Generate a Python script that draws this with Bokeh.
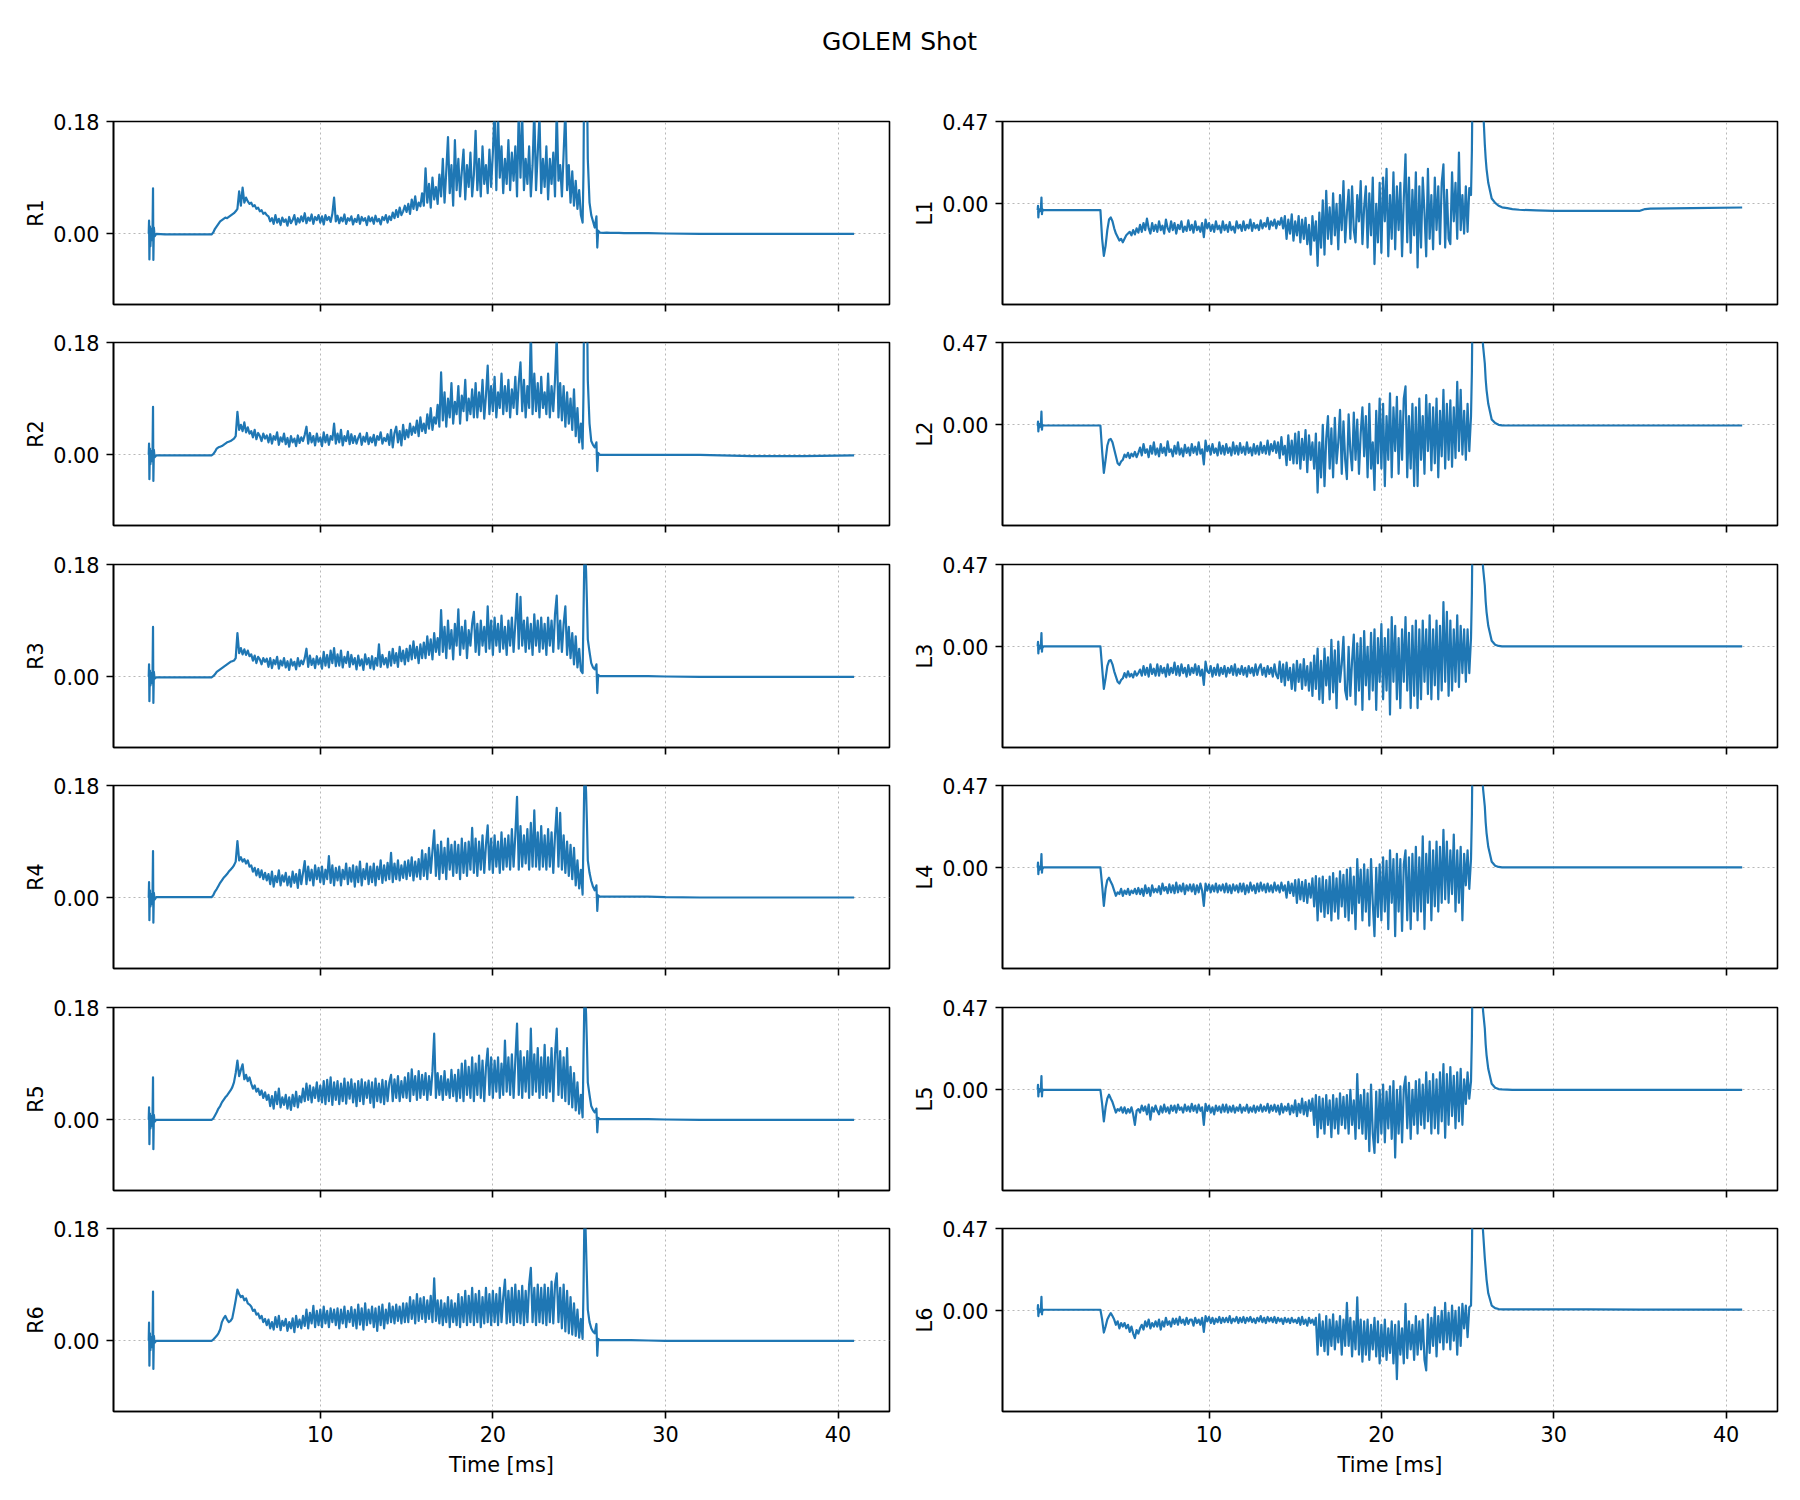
import numpy as np
from bokeh.plotting import figure
from bokeh.layouts import gridplot, column
from bokeh.models import Range1d, FixedTicker, NumeralTickFormatter
from bokeh.core.properties import value
from bokeh.embed import file_html
from bokeh.resources import INLINE

FONT = "DejaVu Sans"
TITLE = "GOLEM Shot"
X_LABEL = "Time [ms]"
X_TICKS = [10, 20, 30, 40]
X_LIM = (-1.98, 42.98)
R_YLIM = (-0.1133, 0.18)
L_YLIM = (-0.575, 0.47)
R_NAMES = ["R1", "R2", "R3", "R4", "R5", "R6"]
L_NAMES = ["L1", "L2", "L3", "L4", "L5", "L6"]

# time base [ms]
T_START = [0.06, 0.08, 0.10, 0.13, 0.16, 0.20, 0.24, 0.28, 0.31, 0.33, 0.36, 0.40, 0.50]
T_FLAT = [1.0, 2.0, 3.0, 3.7]
T_BODY = np.round(np.arange(3.8, 25.2001, 0.1), 2)          # 3.8 ... 25.2
T_END = [25.25, 25.3, 25.35, 25.4, 25.45, 25.5, 25.6, 25.7, 25.8, 25.9, 26.0, 26.05, 26.1,
         26.2, 26.4, 26.6, 26.8, 27.0, 27.3, 27.6, 28.0, 29.0, 30.0, 32.0, 35.0, 35.3, 35.6, 38.0, 40.93]
TIME = np.concatenate([T_START, T_FLAT, T_BODY, T_END])

R1 = [0.0, 0.021, -0.041, 0.012, -0.02, 0.008, -0.01, 0.005, 0.073, -0.042, 0.01, -0.004, 0.0,
      -0.001, -0.001, -0.001, -0.001,
      0.002, 0.008,
      0.012, 0.016, 0.02, 0.022, 0.024, 0.026, 0.025, 0.027, 0.029, 0.031,
      0.033, 0.036, 0.04, 0.068, 0.045, 0.074, 0.05, 0.058, 0.052, 0.048,
      0.05, 0.044, 0.046, 0.04, 0.042, 0.036, 0.038, 0.032, 0.034, 0.03,
      0.028, 0.02, 0.025, 0.016, 0.03, 0.018, 0.024, 0.014, 0.026, 0.019,
      0.023, 0.013, 0.027, 0.017, 0.022, 0.03, 0.015, 0.025, 0.018, 0.028,
      0.02, 0.033, 0.017, 0.026, 0.021, 0.031, 0.016, 0.027, 0.022, 0.03,
      0.018, 0.028, 0.015, 0.03, 0.022, 0.027, 0.019, 0.032, 0.058, 0.02,
      0.029, 0.017, 0.026, 0.02, 0.031, 0.016, 0.025, 0.021, 0.028, 0.015,
      0.024, 0.019, 0.03, 0.016, 0.027, 0.021, 0.025, 0.014, 0.028, 0.02,
      0.026, 0.016, 0.029, 0.02, 0.024, 0.015, 0.027, 0.022, 0.03, 0.018,
      0.028, 0.022, 0.034, 0.025, 0.038, 0.027, 0.042, 0.03, 0.036, 0.045,
      0.035, 0.048, 0.032, 0.055, 0.04, 0.06, 0.038, 0.05, 0.044, 0.065,
      0.045, 0.105, 0.05, 0.08, 0.042, 0.09, 0.055, 0.075, 0.048, 0.095,
      0.06, 0.12, 0.05, 0.1, 0.155, 0.065, 0.11, 0.045, 0.15, 0.07,
      0.12, 0.06, 0.1, 0.135, 0.055, 0.11, 0.075, 0.13, 0.06, 0.095,
      0.165, 0.07, 0.12, 0.06, 0.14, 0.08, 0.11, 0.065, 0.135, 0.075,
      0.13, 0.2, 0.07, 0.19, 0.09, 0.14, 0.065, 0.12, 0.08, 0.15,
      0.07, 0.13, 0.085, 0.14, 0.06, 0.2, 0.09, 0.19, 0.07, 0.12,
      0.08, 0.14, 0.06, 0.11, 0.2, 0.07, 0.13, 0.19, 0.065, 0.12,
      0.075, 0.14, 0.055, 0.12, 0.08, 0.13, 0.06, 0.2, 0.085, 0.11,
      0.06, 0.13, 0.2, 0.07, 0.11, 0.05, 0.1, 0.045, 0.085, 0.04,
      0.07, 0.03, 0.018,
      0.1, 0.3, 0.45, 0.4, 0.25, 0.12, 0.05, 0.03, 0.02, 0.01, 0.028, -0.022, 0.005,
      0.002, 0.0015, 0.002, 0.0015, 0.0015, 0.0015, 0.001, 0.001, 0.001, 0.0005, 0.0, 0.0, 0.0, 0.0, 0.0, 0.0]

R2 = [0.0, 0.018, -0.039, 0.01, -0.015, 0.006, -0.01, 0.004, 0.077, -0.042, 0.008, -0.004, -0.001,
      -0.001, -0.001, -0.001, -0.001,
      0.001, 0.005,
      0.01, 0.012, 0.013, 0.014, 0.016, 0.018, 0.02, 0.021, 0.022, 0.024,
      0.026, 0.03, 0.069, 0.04, 0.048, 0.038, 0.052, 0.036, 0.044, 0.034,
      0.038, 0.028, 0.04, 0.025, 0.035, 0.03, 0.022, 0.034, 0.026, 0.031,
      0.02, 0.033, 0.018, 0.03, 0.024, 0.036, 0.016, 0.028, 0.021, 0.034,
      0.017, 0.027, 0.013, 0.03, 0.02, 0.026, 0.014, 0.031, 0.019, 0.028,
      0.022, 0.032, 0.045, 0.018, 0.035, 0.02, 0.03, 0.015, 0.034, 0.021,
      0.028, 0.014, 0.036, 0.02, 0.032, 0.016, 0.03, 0.024, 0.05, 0.018,
      0.034, 0.02, 0.04, 0.015, 0.03, 0.022, 0.038, 0.017, 0.033, 0.019,
      0.03, 0.018, 0.027, 0.034, 0.016, 0.029, 0.021, 0.035, 0.017, 0.028,
      0.02, 0.032, 0.015, 0.03, 0.024, 0.036, 0.018, 0.027, 0.022, 0.033,
      0.016, 0.04, 0.012, 0.035, 0.045, 0.02, 0.038, 0.015, 0.048, 0.025,
      0.04, 0.028, 0.05, 0.032, 0.045, 0.035, 0.055, 0.03, 0.06, 0.038,
      0.05, 0.035, 0.065, 0.042, 0.075, 0.04, 0.06, 0.05, 0.08, 0.045,
      0.132, 0.055, 0.1, 0.045, 0.09, 0.06, 0.115, 0.05, 0.085, 0.065,
      0.11, 0.05, 0.095, 0.07, 0.12, 0.055, 0.09, 0.065, 0.105, 0.06,
      0.115, 0.06, 0.1, 0.07, 0.12, 0.058, 0.095, 0.143, 0.065, 0.11,
      0.07, 0.125, 0.06, 0.1, 0.075, 0.13, 0.065, 0.11, 0.07, 0.12,
      0.06, 0.105, 0.075, 0.125, 0.065, 0.115, 0.148, 0.07, 0.12, 0.06,
      0.11, 0.075, 0.2, 0.065, 0.13, 0.07, 0.115, 0.06, 0.125, 0.075,
      0.1, 0.065, 0.13, 0.06, 0.11, 0.07, 0.12, 0.19, 0.06, 0.115,
      0.055, 0.11, 0.045, 0.1, 0.05, 0.09, 0.04, 0.105, 0.03, 0.075,
      0.02, 0.05, 0.01,
      0.1, 0.3, 0.45, 0.4, 0.25, 0.12, 0.05, 0.022, 0.016, 0.012, 0.02, -0.026, 0.003,
      0.0, 0.0, 0.0, 0.0, 0.0, 0.0, 0.0, 0.0, 0.0, 0.0, 0.0, -0.002, -0.002, -0.002, -0.002, -0.001]

R3 = [0.0, 0.02, -0.039, 0.01, -0.014, 0.006, -0.01, 0.004, 0.08, -0.042, 0.008, -0.003, -0.001,
      -0.001, -0.001, -0.001, -0.001,
      0.001, 0.004,
      0.008, 0.01, 0.012, 0.014, 0.016, 0.018, 0.02, 0.022, 0.024, 0.025,
      0.026, 0.03, 0.07, 0.038, 0.046, 0.036, 0.044, 0.035, 0.042, 0.033,
      0.036, 0.026, 0.034, 0.022, 0.032, 0.028, 0.02, 0.03, 0.024, 0.029,
      0.016, 0.03, 0.014, 0.027, 0.02, 0.032, 0.013, 0.026, 0.018, 0.03,
      0.015, 0.025, 0.011, 0.028, 0.018, 0.024, 0.012, 0.03, 0.017, 0.026,
      0.02, 0.03, 0.045, 0.016, 0.034, 0.019, 0.029, 0.014, 0.033, 0.02,
      0.03, 0.013, 0.04, 0.018, 0.035, 0.015, 0.042, 0.022, 0.046, 0.017,
      0.036, 0.018, 0.042, 0.015, 0.032, 0.022, 0.04, 0.016, 0.035, 0.02,
      0.03, 0.012, 0.034, 0.018, 0.028, 0.011, 0.036, 0.02, 0.03, 0.014,
      0.033, 0.012, 0.03, 0.018, 0.052, 0.016, 0.035, 0.02, 0.03, 0.015,
      0.04, 0.018, 0.045, 0.022, 0.038, 0.016, 0.048, 0.025, 0.042, 0.02,
      0.045, 0.025, 0.05, 0.028, 0.057, 0.03, 0.048, 0.022, 0.052, 0.03,
      0.055, 0.03, 0.065, 0.035, 0.06, 0.028, 0.07, 0.04, 0.062, 0.035,
      0.107, 0.04, 0.08, 0.03, 0.09, 0.045, 0.075, 0.028, 0.085, 0.05,
      0.108, 0.035, 0.08, 0.045, 0.09, 0.03, 0.075, 0.05, 0.085, 0.104,
      0.04, 0.085, 0.035, 0.09, 0.05, 0.08, 0.04, 0.113, 0.045, 0.09,
      0.035, 0.095, 0.05, 0.085, 0.04, 0.098, 0.045, 0.08, 0.035, 0.09,
      0.05, 0.095, 0.04, 0.085, 0.133, 0.045, 0.128, 0.05, 0.09, 0.04,
      0.095, 0.045, 0.085, 0.035, 0.1, 0.05, 0.09, 0.04, 0.095, 0.045,
      0.085, 0.035, 0.095, 0.05, 0.09, 0.04, 0.1, 0.13, 0.045, 0.09,
      0.04, 0.085, 0.113, 0.035, 0.08, 0.03, 0.07, 0.02, 0.065, 0.015,
      0.045, 0.01, 0.006,
      0.1, 0.19, 0.2, 0.17, 0.12, 0.06, 0.04, 0.022, 0.015, 0.012, 0.02, -0.026, 0.003,
      0.001, 0.001, 0.001, 0.001, 0.001, 0.001, 0.001, 0.001, 0.001, 0.0005, 0.0, 0.0, 0.0, 0.0, 0.0, 0.0]

R4 = [0.0, 0.025, -0.036, 0.012, -0.014, 0.006, -0.01, 0.004, 0.075, -0.04, 0.008, -0.003, 0.001,
      0.001, 0.001, 0.001, 0.001,
      0.004, 0.01,
      0.014, 0.019, 0.024, 0.028, 0.032, 0.035, 0.038, 0.042, 0.045, 0.048,
      0.052, 0.058, 0.091, 0.06, 0.065, 0.058, 0.062, 0.055, 0.06, 0.05,
      0.052, 0.042, 0.048, 0.036, 0.046, 0.033, 0.044, 0.03, 0.04, 0.028,
      0.038, 0.022, 0.042, 0.018, 0.035, 0.025, 0.044, 0.02, 0.036, 0.026,
      0.04, 0.02, 0.034, 0.018, 0.042, 0.024, 0.038, 0.016, 0.045, 0.022,
      0.04, 0.059, 0.022, 0.05, 0.028, 0.045, 0.02, 0.052, 0.03, 0.048,
      0.025, 0.05, 0.022, 0.045, 0.03, 0.067, 0.024, 0.052, 0.02, 0.048,
      0.028, 0.05, 0.02, 0.045, 0.03, 0.055, 0.022, 0.048, 0.026, 0.052,
      0.018, 0.05, 0.025, 0.058, 0.02, 0.046, 0.03, 0.055, 0.022, 0.05,
      0.025, 0.055, 0.02, 0.05, 0.03, 0.06, 0.024, 0.052, 0.028, 0.056,
      0.03, 0.072, 0.025, 0.055, 0.03, 0.06, 0.028, 0.052, 0.032, 0.058,
      0.03, 0.06, 0.035, 0.065, 0.028, 0.058, 0.034, 0.062, 0.03, 0.076,
      0.035, 0.07, 0.03, 0.08, 0.04, 0.075, 0.108, 0.035, 0.085, 0.03,
      0.09, 0.04, 0.08, 0.03, 0.095, 0.045, 0.085, 0.035, 0.09, 0.04,
      0.085, 0.03, 0.095, 0.04, 0.088, 0.035, 0.09, 0.045, 0.112, 0.04,
      0.095, 0.035, 0.09, 0.045, 0.1, 0.04, 0.085, 0.116, 0.045, 0.095,
      0.04, 0.1, 0.05, 0.09, 0.04, 0.105, 0.045, 0.095, 0.05, 0.1,
      0.045, 0.11, 0.05, 0.1, 0.162, 0.045, 0.115, 0.05, 0.1, 0.055,
      0.11, 0.045, 0.12, 0.05, 0.14, 0.05, 0.105, 0.045, 0.115, 0.05,
      0.1, 0.045, 0.11, 0.05, 0.105, 0.04, 0.1, 0.144, 0.05, 0.136,
      0.045, 0.1, 0.04, 0.09, 0.035, 0.085, 0.03, 0.08, 0.02, 0.06,
      0.015, 0.045, 0.005,
      0.1, 0.19, 0.2, 0.17, 0.12, 0.06, 0.04, 0.027, 0.018, 0.012, 0.02, -0.021, 0.004,
      0.002, 0.002, 0.002, 0.002, 0.002, 0.002, 0.002, 0.002, 0.002, 0.001, 0.0005, 0.0005, 0.0005, 0.0005, 0.0005, 0.0005]

R5 = [0.0, 0.02, -0.039, 0.01, -0.014, 0.006, -0.01, 0.004, 0.068, -0.047, 0.008, -0.003, 0.0,
      0.0, 0.0, 0.0, 0.0,
      0.002, 0.007,
      0.012, 0.018, 0.022, 0.028, 0.032, 0.036, 0.039, 0.043, 0.047, 0.052,
      0.06, 0.075, 0.095, 0.07, 0.08, 0.089, 0.065, 0.072, 0.062, 0.068,
      0.058, 0.05, 0.055, 0.045, 0.05, 0.04, 0.047, 0.035, 0.044, 0.032,
      0.04, 0.022, 0.038, 0.018, 0.045, 0.025, 0.05, 0.02, 0.036, 0.024,
      0.04, 0.018, 0.036, 0.016, 0.04, 0.022, 0.045, 0.02, 0.038, 0.028,
      0.05, 0.03, 0.058, 0.032, 0.055, 0.028, 0.052, 0.035, 0.06, 0.03,
      0.055, 0.028, 0.062, 0.025, 0.064, 0.03, 0.068, 0.024, 0.06, 0.032,
      0.062, 0.025, 0.058, 0.03, 0.066, 0.026, 0.06, 0.034, 0.065, 0.028,
      0.058, 0.022, 0.062, 0.03, 0.065, 0.025, 0.06, 0.035, 0.063, 0.027,
      0.06, 0.02, 0.066, 0.03, 0.058, 0.028, 0.064, 0.025, 0.062, 0.03,
      0.06, 0.072, 0.03, 0.065, 0.035, 0.07, 0.03, 0.062, 0.036, 0.068,
      0.035, 0.075, 0.03, 0.081, 0.04, 0.07, 0.032, 0.078, 0.035, 0.072,
      0.04, 0.075, 0.032, 0.07, 0.04, 0.078, 0.138, 0.035, 0.075, 0.04,
      0.07, 0.032, 0.078, 0.04, 0.065, 0.035, 0.08, 0.038, 0.072, 0.03,
      0.08, 0.035, 0.09, 0.03, 0.095, 0.04, 0.085, 0.035, 0.1, 0.03,
      0.09, 0.04, 0.103, 0.035, 0.095, 0.03, 0.085, 0.114, 0.04, 0.1,
      0.035, 0.095, 0.045, 0.1, 0.035, 0.09, 0.04, 0.127, 0.045, 0.1,
      0.04, 0.105, 0.035, 0.095, 0.154, 0.04, 0.11, 0.035, 0.1, 0.045,
      0.11, 0.035, 0.146, 0.04, 0.105, 0.045, 0.115, 0.035, 0.1, 0.04,
      0.12, 0.035, 0.1, 0.045, 0.115, 0.03, 0.105, 0.146, 0.04, 0.11,
      0.035, 0.1, 0.03, 0.115, 0.025, 0.085, 0.02, 0.075, 0.015, 0.06,
      0.01, 0.04, 0.004,
      0.1, 0.19, 0.2, 0.17, 0.12, 0.06, 0.04, 0.022, 0.016, 0.012, 0.018, -0.02, 0.003,
      0.001, 0.001, 0.001, 0.001, 0.001, 0.001, 0.001, 0.001, 0.001, 0.0005, 0.0, 0.0, 0.0, 0.0, 0.0, 0.0]

R6 = [0.0, 0.029, -0.04, 0.012, -0.015, 0.006, -0.01, 0.004, 0.079, -0.045, 0.008, -0.003, 0.0,
      0.0, 0.0, 0.0, 0.0,
      0.002, 0.005,
      0.008, 0.012, 0.018, 0.03, 0.036, 0.04, 0.034, 0.03, 0.032, 0.036,
      0.05, 0.065, 0.082, 0.075, 0.07, 0.072, 0.065, 0.068, 0.06, 0.058,
      0.055, 0.048, 0.05, 0.042, 0.044, 0.036, 0.04, 0.03, 0.035, 0.025,
      0.034, 0.02, 0.03, 0.018, 0.038, 0.022, 0.04, 0.017, 0.032, 0.024,
      0.035, 0.016, 0.03, 0.02, 0.036, 0.014, 0.04, 0.022, 0.034, 0.02,
      0.04, 0.024, 0.05, 0.02, 0.045, 0.028, 0.056, 0.022, 0.048, 0.025,
      0.05, 0.022, 0.055, 0.028, 0.048, 0.022, 0.052, 0.03, 0.05, 0.025,
      0.052, 0.02, 0.05, 0.028, 0.055, 0.022, 0.048, 0.03, 0.054, 0.024,
      0.05, 0.02, 0.058, 0.026, 0.052, 0.018, 0.06, 0.025, 0.05, 0.028,
      0.055, 0.022, 0.052, 0.016, 0.055, 0.025, 0.058, 0.02, 0.05, 0.028,
      0.06, 0.03, 0.055, 0.028, 0.058, 0.032, 0.055, 0.028, 0.06, 0.03,
      0.06, 0.03, 0.07, 0.035, 0.065, 0.028, 0.075, 0.032, 0.068, 0.035,
      0.07, 0.03, 0.065, 0.035, 0.072, 0.03, 0.1, 0.032, 0.065, 0.028,
      0.065, 0.025, 0.06, 0.03, 0.07, 0.022, 0.065, 0.03, 0.06, 0.025,
      0.075, 0.022, 0.07, 0.03, 0.08, 0.025, 0.072, 0.03, 0.085, 0.025,
      0.075, 0.03, 0.08, 0.022, 0.07, 0.028, 0.085, 0.03, 0.075, 0.025,
      0.08, 0.03, 0.075, 0.025, 0.085, 0.03, 0.07, 0.098, 0.028, 0.08,
      0.03, 0.085, 0.025, 0.09, 0.03, 0.08, 0.028, 0.088, 0.025, 0.08,
      0.03, 0.09, 0.117, 0.03, 0.085, 0.025, 0.09, 0.03, 0.085, 0.028,
      0.09, 0.025, 0.085, 0.03, 0.095, 0.028, 0.09, 0.108, 0.03, 0.085,
      0.02, 0.09, 0.015, 0.08, 0.012, 0.07, 0.01, 0.06, 0.008, 0.05,
      0.005, 0.035, 0.003,
      0.08, 0.19, 0.2, 0.15, 0.1, 0.05, 0.03, 0.02, 0.015, 0.012, 0.027, -0.024, 0.003,
      0.001, 0.001, 0.001, 0.001, 0.001, 0.001, 0.001, 0.001, 0.0005, 0.0, 0.0, 0.0, 0.0, 0.0, 0.0, 0.0]

L1 = [-0.036, -0.011, -0.078, -0.03, -0.045, -0.035, -0.04, 0.036, -0.059, -0.03, -0.04, -0.036, -0.036,
      -0.036, -0.036, -0.036, -0.036,
      -0.2, -0.297,
      -0.24, -0.15, -0.09, -0.078, -0.1, -0.14, -0.17, -0.19, -0.21, -0.2,
      -0.22, -0.2, -0.18, -0.17, -0.16, -0.18, -0.15, -0.175, -0.14, -0.165,
      -0.12, -0.16, -0.11, -0.15, -0.085, -0.14, -0.17, -0.11, -0.155, -0.12,
      -0.16, -0.1, -0.15, -0.125, -0.17, -0.09, -0.14, -0.16, -0.1, -0.15,
      -0.11, -0.17, -0.12, -0.145, -0.1, -0.16, -0.13, -0.155, -0.095, -0.15,
      -0.12, -0.165, -0.1, -0.15, -0.13, -0.16, -0.11, -0.19, -0.09, -0.14,
      -0.11, -0.155, -0.12, -0.16, -0.1, -0.145, -0.125, -0.165, -0.1, -0.15,
      -0.12, -0.16, -0.105, -0.15, -0.13, -0.165, -0.1, -0.14, -0.12, -0.155,
      -0.1, -0.15, -0.12, -0.14, -0.09, -0.155, -0.11, -0.14, -0.12, -0.15,
      -0.095, -0.14, -0.11, -0.13, -0.08, -0.145, -0.1, -0.125, -0.09, -0.14,
      -0.1, -0.12, -0.08, -0.14, -0.07, -0.2, -0.09, -0.17, -0.06, -0.21,
      -0.1, -0.18, -0.07, -0.22, -0.09, -0.2, -0.08, -0.23, -0.12, -0.29,
      -0.07, -0.21, -0.1, -0.354, -0.05, -0.25, 0.02, -0.29, 0.074, -0.2,
      -0.02, -0.23, 0.06, -0.18, 0.0, -0.26, 0.05, -0.15, 0.13, -0.22,
      -0.05, 0.08, -0.2, 0.1, -0.15, -0.22, 0.05, -0.1, 0.13, -0.23,
      -0.02, 0.1, -0.25, 0.06, -0.18, 0.15, -0.344, 0.0, -0.22, 0.12,
      -0.28, 0.15, -0.1, 0.2, -0.3, 0.05, -0.2, 0.18, -0.26, 0.1,
      -0.15, 0.12, -0.3, 0.03, 0.283, -0.22, 0.15, -0.28, 0.08, -0.18,
      0.18, -0.363, 0.1, -0.25, 0.15, -0.05, -0.3, 0.2, -0.2, 0.05,
      -0.26, 0.15, -0.15, 0.1, -0.23, 0.12, 0.226, -0.25, 0.08, -0.2,
      -0.23, 0.18, -0.1, 0.12, -0.2, 0.293, -0.15, 0.05, -0.17, 0.1,
      -0.16, 0.09, 0.05,
      0.3, 0.8, 1.2, 1.3, 1.2, 1.1, 0.95, 0.8, 0.65, 0.55, 0.34, 0.26, 0.2,
      0.12, 0.03, 0.005, -0.011, -0.02, -0.025, -0.03, -0.034, -0.038, -0.04, -0.04, -0.04, -0.03, -0.028, -0.025, -0.021]

L2 = [-0.004, 0.019, -0.038, 0.005, -0.015, 0.0, -0.01, 0.075, -0.028, 0.0, -0.006, -0.004, -0.004,
      -0.004, -0.004, -0.004, -0.004,
      -0.15, -0.274,
      -0.2, -0.12, -0.085, -0.081, -0.1, -0.14, -0.18, -0.22, -0.23, -0.21,
      -0.2, -0.17, -0.185, -0.16, -0.19, -0.165, -0.18, -0.155, -0.185, -0.16,
      -0.13, -0.175, -0.11, -0.16, -0.14, -0.185, -0.12, -0.165, -0.1, -0.17,
      -0.135, -0.18, -0.11, -0.16, -0.13, -0.175, -0.095, -0.155, -0.14, -0.18,
      -0.12, -0.165, -0.1, -0.17, -0.135, -0.18, -0.115, -0.16, -0.13, -0.175,
      -0.11, -0.16, -0.125, -0.17, -0.1, -0.165, -0.14, -0.226, -0.09, -0.15,
      -0.12, -0.17, -0.11, -0.16, -0.135, -0.175, -0.1, -0.165, -0.12, -0.17,
      -0.11, -0.16, -0.13, -0.175, -0.1, -0.165, -0.12, -0.17, -0.105, -0.16,
      -0.125, -0.17, -0.1, -0.16, -0.13, -0.175, -0.11, -0.165, -0.12, -0.17,
      -0.1, -0.16, -0.12, -0.165, -0.09, -0.17, -0.11, -0.15, -0.095, -0.16,
      -0.1, -0.19, -0.07, -0.17, -0.12, -0.23, -0.06, -0.2, -0.09, -0.22,
      -0.05, -0.22, -0.04, -0.25, -0.08, -0.2, -0.03, -0.27, -0.06, -0.2,
      -0.1, -0.25, -0.05, -0.387, -0.1, -0.3, 0.0, -0.35, -0.08, 0.05,
      -0.25, -0.02, -0.3, 0.04, -0.22, -0.1, 0.085, -0.28, 0.02, -0.2,
      -0.31, 0.06, -0.15, -0.26, 0.07, -0.2, 0.03, -0.28, -0.05, 0.1,
      -0.18, 0.05, -0.3, 0.12, -0.25, -0.1, -0.372, 0.08, -0.22, 0.15,
      -0.25, 0.12, -0.35, 0.05, -0.2, 0.18, -0.3, 0.1, -0.15, 0.16,
      -0.28, 0.08, -0.2, 0.15, 0.22, -0.3, 0.05, -0.25, 0.12, -0.35,
      0.1, -0.35, 0.15, -0.2, 0.05, -0.28, 0.17, -0.15, 0.12, -0.26,
      0.1, -0.22, 0.15, -0.3, 0.08, -0.18, 0.2, -0.25, 0.12, -0.2,
      0.14, -0.24, 0.1, -0.19, 0.245, -0.15, 0.2, -0.17, 0.08, -0.2,
      0.12, -0.15, 0.05,
      0.3, 0.8, 1.2, 1.3, 1.2, 1.1, 0.95, 0.8, 0.6, 0.45, 0.35, 0.26, 0.2,
      0.12, 0.03, 0.01, 0.0, -0.003, -0.004, -0.004, -0.004, -0.004, -0.004, -0.004, -0.004, -0.004, -0.004, -0.004, -0.004]

L3 = [0.002, 0.028, -0.038, 0.008, -0.012, 0.004, -0.008, 0.078, -0.028, 0.004, -0.004, 0.002, 0.002,
      0.002, 0.002, 0.002, 0.002,
      -0.12, -0.24,
      -0.18, -0.11, -0.08, -0.076, -0.1, -0.14, -0.17, -0.2, -0.21, -0.19,
      -0.18, -0.15, -0.175, -0.14, -0.17, -0.155, -0.175, -0.14, -0.165, -0.15,
      -0.13, -0.165, -0.11, -0.16, -0.12, -0.17, -0.1, -0.155, -0.125, -0.165,
      -0.1, -0.165, -0.11, -0.15, -0.12, -0.17, -0.1, -0.16, -0.12, -0.15,
      -0.09, -0.16, -0.11, -0.165, -0.1, -0.15, -0.12, -0.17, -0.105, -0.16,
      -0.12, -0.15, -0.1, -0.16, -0.11, -0.165, -0.13, -0.217, -0.085, -0.14,
      -0.15, -0.11, -0.17, -0.12, -0.16, -0.1, -0.165, -0.12, -0.155, -0.11,
      -0.17, -0.12, -0.15, -0.11, -0.16, -0.1, -0.165, -0.125, -0.155, -0.11,
      -0.16, -0.12, -0.17, -0.11, -0.15, -0.12, -0.165, -0.1, -0.16, -0.12,
      -0.1, -0.16, -0.12, -0.17, -0.11, -0.155, -0.12, -0.17, -0.1, -0.16,
      -0.18, -0.085, -0.2, -0.1, -0.22, -0.09, -0.19, -0.12, -0.24, -0.1,
      -0.25, -0.08, -0.2, -0.1, -0.24, -0.07, -0.22, -0.11, -0.25, -0.09,
      -0.28, -0.05, -0.24, -0.01, -0.3, -0.08, -0.32, -0.01, -0.22, -0.06,
      -0.3, 0.04, -0.26, -0.02, -0.35, 0.03, -0.2, -0.1, 0.057, -0.25,
      -0.3, 0.0, -0.28, -0.08, 0.07, -0.33, 0.02, -0.25, 0.05, -0.36,
      0.09, -0.22, 0.0, -0.3, 0.08, -0.25, 0.1, -0.36, 0.05, -0.2,
      0.13, -0.3, 0.05, -0.25, 0.1, -0.387, 0.17, -0.2, 0.12, -0.3,
      0.05, -0.35, 0.1, -0.2, 0.17, -0.25, 0.08, -0.35, 0.12, -0.28,
      0.15, -0.35, 0.1, -0.3, 0.15, -0.2, 0.1, -0.27, 0.18, -0.3,
      0.1, -0.22, 0.15, -0.3, 0.12, -0.25, 0.255, -0.2, 0.2, -0.28,
      0.15, -0.25, 0.1, -0.2, 0.18, -0.23, 0.12, -0.15, 0.1, -0.2,
      0.1, -0.15, 0.05,
      0.3, 0.8, 1.2, 1.3, 1.2, 1.1, 0.95, 0.8, 0.6, 0.45, 0.35, 0.26, 0.2,
      0.12, 0.035, 0.012, 0.005, 0.003, 0.002, 0.002, 0.002, 0.002, 0.002, 0.002, 0.002, 0.002, 0.002, 0.002, 0.002]

L4 = [0.002, 0.03, -0.036, 0.008, -0.012, 0.004, -0.008, 0.078, -0.028, 0.004, -0.004, 0.002, 0.002,
      0.002, 0.002, 0.002, 0.002,
      -0.1, -0.217,
      -0.12, -0.07, -0.057, -0.08, -0.1, -0.13, -0.16, -0.14, -0.15, -0.12,
      -0.16, -0.13, -0.15, -0.12, -0.155, -0.13, -0.145, -0.12, -0.15, -0.115,
      -0.15, -0.12, -0.16, -0.1, -0.145, -0.115, -0.16, -0.1, -0.14, -0.12,
      -0.14, -0.105, -0.15, -0.09, -0.13, -0.11, -0.145, -0.095, -0.14, -0.1,
      -0.145, -0.085, -0.14, -0.1, -0.135, -0.09, -0.15, -0.1, -0.13, -0.095,
      -0.135, -0.095, -0.15, -0.1, -0.14, -0.09, -0.13, -0.217, -0.09, -0.13,
      -0.095, -0.14, -0.1, -0.135, -0.09, -0.14, -0.1, -0.13, -0.095, -0.14,
      -0.09, -0.14, -0.1, -0.145, -0.095, -0.13, -0.1, -0.14, -0.09, -0.135,
      -0.09, -0.15, -0.1, -0.14, -0.085, -0.13, -0.1, -0.145, -0.09, -0.135,
      -0.085, -0.13, -0.095, -0.14, -0.09, -0.135, -0.1, -0.14, -0.085, -0.13,
      -0.1, -0.14, -0.085, -0.13, -0.1, -0.17, -0.08, -0.145, -0.09, -0.16,
      -0.07, -0.2, -0.066, -0.18, -0.08, -0.19, -0.07, -0.2, -0.09, -0.17,
      -0.06, -0.22, -0.047, -0.3, -0.06, -0.25, -0.05, -0.28, -0.07, -0.26,
      -0.05, -0.3, -0.03, -0.25, -0.06, -0.29, -0.02, -0.22, -0.04, -0.28,
      -0.01, -0.3, 0.0, -0.26, -0.05, -0.35, 0.05, -0.2, -0.01, -0.3,
      0.02, -0.25, -0.01, -0.33, 0.05, -0.2, -0.39, 0.0, -0.28, 0.02,
      -0.3, 0.06, -0.25, 0.04, -0.35, 0.1, -0.2, 0.05, -0.39, 0.08,
      -0.25, 0.05, -0.36, 0.02, 0.1, -0.3, 0.06, -0.35, 0.08, -0.25,
      0.12, -0.3, 0.06, -0.25, 0.18, -0.35, 0.08, -0.2, 0.15, -0.3,
      0.1, -0.22, 0.15, -0.25, 0.12, -0.2, 0.217, -0.18, 0.15, -0.2,
      0.1, -0.15, 0.19, -0.25, 0.1, -0.2, 0.12, -0.3, 0.08, -0.1,
      0.1, -0.12, 0.05,
      0.3, 0.8, 1.2, 1.3, 1.2, 1.1, 0.95, 0.8, 0.6, 0.45, 0.35, 0.26, 0.2,
      0.12, 0.035, 0.012, 0.005, 0.003, 0.002, 0.002, 0.002, 0.002, 0.002, 0.002, 0.002, 0.002, 0.002, 0.002, 0.002]

L5 = [0.0, 0.028, -0.038, 0.006, -0.012, 0.003, -0.008, 0.078, -0.038, 0.003, -0.004, 0.0, 0.0,
      0.0, 0.0, 0.0, 0.0,
      -0.08, -0.18,
      -0.1, -0.05, -0.028, -0.05, -0.07, -0.1, -0.13, -0.11, -0.12, -0.1,
      -0.13, -0.1, -0.135, -0.11, -0.13, -0.1, -0.14, -0.2, -0.12, -0.11,
      -0.13, -0.09, -0.12, -0.095, -0.14, -0.085, -0.17, -0.1, -0.125, -0.09,
      -0.12, -0.14, -0.095, -0.13, -0.085, -0.125, -0.1, -0.135, -0.09, -0.12,
      -0.09, -0.13, -0.085, -0.115, -0.1, -0.13, -0.085, -0.12, -0.095, -0.125,
      -0.08, -0.12, -0.09, -0.13, -0.085, -0.12, -0.1, -0.2, -0.08, -0.12,
      -0.09, -0.13, -0.1, -0.14, -0.09, -0.12, -0.095, -0.13, -0.085, -0.125,
      -0.085, -0.13, -0.095, -0.125, -0.09, -0.13, -0.1, -0.12, -0.085, -0.13,
      -0.1, -0.12, -0.085, -0.13, -0.1, -0.125, -0.09, -0.13, -0.095, -0.12,
      -0.085, -0.125, -0.095, -0.12, -0.08, -0.13, -0.09, -0.12, -0.085, -0.125,
      -0.09, -0.14, -0.08, -0.13, -0.095, -0.12, -0.08, -0.14, -0.09, -0.13,
      -0.06, -0.15, -0.08, -0.13, -0.05, -0.14, -0.07, -0.15, -0.06, -0.12,
      -0.05, -0.2, -0.03, -0.27, -0.04, -0.22, -0.05, -0.25, -0.03, -0.2,
      -0.06, -0.27, -0.03, -0.22, -0.05, -0.25, -0.02, -0.2, -0.04, -0.22,
      -0.03, -0.25, 0.0, -0.2, -0.06, -0.28, 0.09, -0.22, -0.03, -0.25,
      0.0, -0.28, -0.02, -0.35, 0.03, -0.25, -0.36, -0.01, -0.3, 0.0,
      -0.25, 0.03, -0.3, -0.01, -0.22, 0.02, -0.28, 0.05, -0.387, 0.0,
      -0.25, 0.02, -0.3, 0.01, 0.075, -0.22, 0.04, -0.28, 0.0, -0.2,
      0.05, -0.25, 0.06, -0.2, 0.03, -0.22, 0.1, -0.18, 0.05, -0.25,
      0.09, -0.22, 0.06, -0.25, 0.1, -0.18, 0.147, -0.274, 0.09, -0.2,
      0.13, -0.15, 0.08, -0.22, 0.1, -0.18, 0.12, -0.2, 0.06, -0.08,
      0.1, -0.05, 0.05,
      0.3, 0.8, 1.2, 1.3, 1.2, 1.1, 0.95, 0.8, 0.6, 0.45, 0.35, 0.26, 0.2,
      0.12, 0.035, 0.012, 0.004, 0.002, 0.001, 0.0, 0.0, 0.0, 0.0, 0.0, 0.0, 0.0, 0.0, 0.0, 0.0]

L6 = [0.006, 0.032, -0.03, 0.01, -0.01, 0.008, -0.004, 0.08, -0.02, 0.008, 0.002, 0.006, 0.006,
      0.006, 0.006, 0.006, 0.006,
      -0.05, -0.124,
      -0.09, -0.05, -0.03, -0.013, -0.03, -0.05, -0.08, -0.06, -0.1, -0.07,
      -0.09, -0.07, -0.1, -0.08, -0.12, -0.09, -0.13, -0.156, -0.11, -0.13,
      -0.1, -0.08, -0.107, -0.06, -0.09, -0.05, -0.1, -0.07, -0.09, -0.06,
      -0.09, -0.05, -0.107, -0.06, -0.09, -0.04, -0.08, -0.06, -0.09, -0.045,
      -0.075, -0.045, -0.08, -0.035, -0.07, -0.05, -0.08, -0.04, -0.075, -0.05,
      -0.05, -0.085, -0.04, -0.07, -0.05, -0.08, -0.04, -0.12, -0.03, -0.06,
      -0.035, -0.07, -0.04, -0.075, -0.045, -0.065, -0.035, -0.07, -0.04, -0.065,
      -0.04, -0.065, -0.03, -0.07, -0.045, -0.06, -0.035, -0.07, -0.04, -0.065,
      -0.035, -0.07, -0.04, -0.06, -0.035, -0.065, -0.045, -0.07, -0.04, -0.06,
      -0.03, -0.065, -0.04, -0.07, -0.035, -0.06, -0.04, -0.065, -0.035, -0.07,
      -0.04, -0.06, -0.045, -0.075, -0.04, -0.065, -0.045, -0.07, -0.04, -0.065,
      -0.05, -0.07, -0.04, -0.08, -0.035, -0.075, -0.05, -0.085, -0.04, -0.07,
      -0.05, -0.08, -0.04, -0.25, -0.02, -0.2, -0.06, -0.23, -0.03, -0.25,
      -0.05, -0.2, -0.02, -0.22, -0.06, -0.18, -0.03, -0.25, -0.05, -0.2,
      0.045, -0.2, -0.04, -0.26, -0.06, -0.22, 0.077, -0.25, -0.05, -0.29,
      -0.06, -0.25, -0.05, -0.28, -0.08, -0.22, -0.04, -0.26, -0.06, -0.3,
      -0.08, -0.26, -0.05, -0.28, -0.1, -0.24, -0.06, -0.3, -0.08, -0.39,
      -0.06, -0.25, -0.1, -0.3, 0.04, -0.27, -0.06, -0.22, -0.08, -0.28,
      -0.03, -0.25, -0.06, -0.22, -0.05, -0.28, -0.34, -0.02, -0.24, -0.04,
      -0.2, 0.02, -0.26, -0.03, -0.18, 0.0, -0.22, 0.045, -0.18, -0.01,
      -0.22, 0.03, -0.17, 0.0, -0.25, 0.02, -0.2, 0.04, -0.1, 0.03,
      -0.15, 0.02, 0.03,
      0.3, 0.8, 1.2, 1.3, 1.2, 1.1, 0.95, 0.8, 0.6, 0.45, 0.3, 0.24, 0.18,
      0.1, 0.03, 0.015, 0.01, 0.008, 0.008, 0.008, 0.008, 0.008, 0.008, 0.008, 0.007, 0.007, 0.007, 0.007, 0.007]

SERIES = {"R1": R1, "R2": R2, "R3": R3, "R4": R4, "R5": R5, "R6": R6,
          "L1": L1, "L2": L2, "L3": L3, "L4": L4, "L5": L5, "L6": L6}

bad = {k: len(v) for k, v in SERIES.items() if len(v) != len(TIME)}
if bad:
    raise ValueError(f"length mismatch: time={len(TIME)} {bad}")

LINE_COLOR = "#1f77b4"
BOTTOM = [24, 25, 24, 25, 24, 80]


def make_panel(name, row, left):
    ylo, yhi = R_YLIM if left else L_YLIM
    last = row == 5
    p = figure(output_backend="svg", toolbar_location=None, tools="",
               frame_width=776 if left else 775, frame_height=183,
               x_range=Range1d(*X_LIM), y_range=Range1d(ylo, yhi),
               min_border_left=113 if left else 105, min_border_right=8 if left else 5,
               min_border_top=14, min_border_bottom=BOTTOM[row])
    p.background_fill_color = "white"
    p.border_fill_color = "white"
    p.outline_line_color = "black"
    p.outline_line_width = 1.6
    p.outline_line_alpha = 1.0

    p.line(TIME, SERIES[name], line_color=LINE_COLOR, line_width=2.2, line_join="round")

    p.xaxis.ticker = FixedTicker(ticks=X_TICKS)
    p.yaxis.ticker = FixedTicker(ticks=[0.0, yhi])
    p.yaxis.formatter = NumeralTickFormatter(format="0.00")
    for ax in (p.xaxis, p.yaxis):
        ax.axis_line_color = "black"
        ax.axis_line_width = 1.6
        ax.major_tick_line_color = "black"
        ax.major_tick_line_width = 1.6
        ax.major_tick_out = 7
        ax.major_tick_in = 0
        ax.minor_tick_line_color = None
        ax.major_label_text_font = FONT
        ax.major_label_text_font_size = "20.8px"
        ax.major_label_text_color = "black"
        ax.major_label_standoff = 7
        ax.axis_label_text_font = FONT
        ax.axis_label_text_font_size = "20.8px"
        ax.axis_label_text_font_style = "normal"
        ax.axis_label_text_color = "black"
    p.yaxis.axis_label_standoff = 2
    p.xaxis.axis_label_standoff = 8
    p.yaxis.axis_label = name
    if last:
        p.xaxis.axis_label = X_LABEL
    else:
        p.xaxis.major_label_overrides = {t: "" for t in X_TICKS}
        p.xaxis.major_label_text_font_size = "0px"
        p.xaxis.major_label_standoff = 0

    p.grid.grid_line_color = "#b0b0b0"
    p.grid.grid_line_width = 1
    p.grid.grid_line_dash = "2 3"
    p.grid.grid_line_alpha = 0.9
    p.ygrid.ticker = FixedTicker(ticks=[0.0, yhi])
    p.xgrid.ticker = FixedTicker(ticks=X_TICKS)
    return p


rows = []
for i in range(6):
    rows.append([make_panel(R_NAMES[i], i, True), make_panel(L_NAMES[i], i, False)])

grid = gridplot(rows, toolbar_location=None)

TITLE_W = 113 + 776 + 8 + 105 + 775 + 5
tf = figure(output_backend="svg", toolbar_location=None, tools="",
            frame_width=TITLE_W, frame_height=107,
            x_range=Range1d(0, TITLE_W), y_range=Range1d(0, 107),
            x_axis_type=None, y_axis_type=None, min_border=0)
tf.outline_line_color = None
tf.text(x=[899], y=[66], text=[TITLE], text_font=value(FONT), text_font_size="25px",
        text_align="center", text_baseline="alphabetic", text_color="black")

layout = column(tf, grid)

with open("out.html", "w") as f:
    f.write(file_html(layout, INLINE))
